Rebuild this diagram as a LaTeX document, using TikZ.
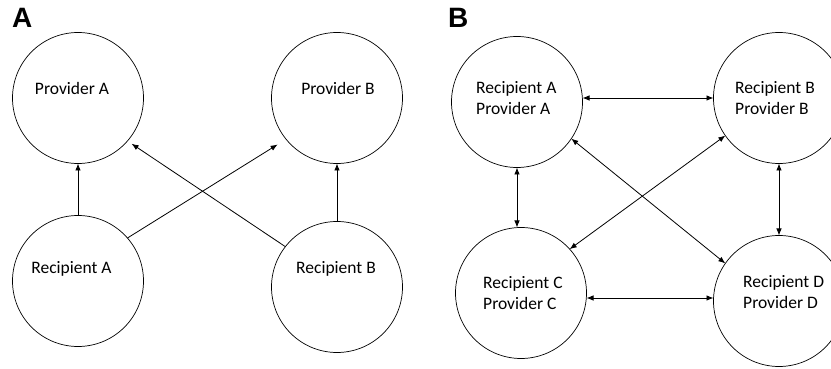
\documentclass[tikz,border=0pt]{standalone}
\usepackage{fontspec}
\setmainfont{Carlito}
\newfontfamily\panelfont{Liberation Sans}
\usetikzlibrary{positioning,arrows.meta}

\begin{document}
\begin{tikzpicture}[x=1pt, y=1pt, node distance=130pt,
  agent/.style={draw, circle, minimum size=131pt, inner sep=0pt, outer sep=0pt, line width=0.7pt},
  role/.style={inner sep=0pt, font=\fontsize{17.5}{21}\selectfont},
  panel/.style={anchor=base west, inner sep=0pt, font=\panelfont\bfseries\fontsize{28}{28}\selectfont},
  link/.style={line width=0.8pt, -{Latex[length=7pt, width=5.5pt]}},
  both/.style={line width=0.8pt, {Latex[length=7pt, width=5.5pt]}-{Latex[length=7pt, width=5.5pt]}}]

  \useasboundingbox (0,0) rectangle (831,369);

  % Panel A
  \node[panel] (labA) at (12,341) {A};
  \node[agent] (pa) at (78,271) {};
  \node[agent, right=128pt of pa] (pb) {};
  \node[agent, below=52pt of pa] (ra) {};
  \node[agent, below=58pt of pb] (rb) {};

  \node[role, anchor=base] (pat) at ([shift={(-6,3)}]pa) {Provider A};
  \node[role, anchor=base] (pbt) at ([shift={(1,3)}]pb) {Provider B};
  \node[role, anchor=base] (rat) at ([shift={(-6.5,7)}]ra) {Recipient A};
  \node[role, anchor=base] (rbt) at ([shift={(-1,13)}]rb) {Recipient B};

  % one-way arrows
  \draw[link] (ra.north) -- (pa.south);
  \draw[link] (rb.north) -- (pb.south);
  \draw[link, shorten >=10pt] (ra.41) -- (pb.219);
  \draw[link, shorten >=5pt] (rb.142) -- (pa.319);

  % Panel B
  \node[panel] (labB) at (448,341) {B};
  \node[agent] (ab) at (517,267) {};
  \node[agent, right=131pt of ab, yshift=4pt] (bb) {};
  \node[agent, below=60pt of ab, xshift=4pt] (cc) {};
  \node[agent, below=72pt of bb] (dd) {};

  \node[role, align=left, anchor=west] (abt) at ([shift={(-41,4)}]ab) {Recipient A\\Provider A};
  \node[role, align=left, anchor=west] (bbt) at ([shift={(-44,0)}]bb) {Recipient B\\Provider B};
  \node[role, align=left, anchor=west] (cct) at ([shift={(-38,0)}]cc) {Recipient C\\Provider C};
  \node[role, align=left, anchor=west] (ddt) at ([shift={(-36,9)}]dd) {Recipient D\\Provider D};

  % two-way arrows
  \draw[both] (bb.west -| ab.east) -- (bb.west);
  \draw[both] ([yshift=-5pt]cc.east) -- ([yshift=-5pt]cc.east -| dd.west);
  \draw[both] (ab.south) -- (ab.south |- cc.north);
  \draw[both] (bb.south) -- (dd.north);
  \draw[both] (ab.326) -- (dd.145);
  \draw[both] (bb.215) -- (cc.42);

\end{tikzpicture}
\end{document}
